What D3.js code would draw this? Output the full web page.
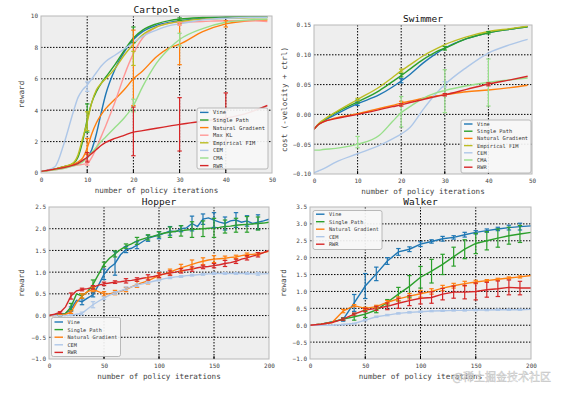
<!DOCTYPE html>
<html><head><meta charset="utf-8">
<script src="https://cdn.jsdelivr.net/npm/d3@7"></script>
<style>body{margin:0;background:#fff}svg{display:block}</style></head>
<body>
<script>
// ---------- Colours / names ----------
const names = {vine:"Vine", single:"Single Path", ng:"Natural Gradient", maxkl:"Max KL", fim:"Empirical FIM", cem:"CEM", cma:"CMA", rwr:"RWR"};
const colors = {vine:"#1f77b4", single:"#2ca02c", ng:"#ff7f0e", maxkl:"#ff9896", fim:"#bcbd22", cem:"#aec7e8", cma:"#98df8a", rwr:"#d62728"};

// ---------- Cartpole ----------
const cartX = [0,3,5,7,8,9,10,11,12,13,14,16,18,20,22,25,28,30,35,40,45,49];
const cartVine   = [0.1,0.25,0.4,0.55,0.65,0.78,0.95,1.5,2.5,3.8,5.0,6.6,7.7,8.5,9.0,9.4,9.6,9.7,9.85,9.9,9.95,9.95];
const cartSingle = [0.1,0.25,0.4,0.6,1.0,2.0,3.4,4.5,5.2,5.7,6.1,6.9,7.8,8.6,9.1,9.5,9.72,9.8,9.9,9.95,9.98,10.0];
const cartNG     = [0.1,0.25,0.4,0.55,0.7,0.95,1.6,2.5,3.2,3.7,4.1,4.7,5.3,6.0,6.5,7.4,8.0,8.2,9.0,9.5,9.7,9.75];
const cartMaxKL  = [0.1,0.2,0.3,0.45,0.5,0.55,0.6,1.0,1.6,2.3,3.0,4.5,6.2,7.6,8.6,9.3,9.55,9.6,9.65,9.7,9.7,9.65];
const cartFIM    = [0.1,0.25,0.4,0.65,1.15,2.2,3.25,4.5,5.3,5.7,6.0,6.65,7.5,8.2,8.8,9.3,9.55,9.65,9.8,9.85,9.88,9.9];
const cartCEM    = [0.1,0.4,1.9,3.9,4.8,5.3,5.6,6.0,6.4,6.8,7.1,7.5,7.9,8.3,8.7,9.1,9.4,9.5,9.75,9.85,9.9,9.9];
const cartCMA    = [0.1,0.2,0.3,0.45,0.55,0.7,1.0,1.3,1.65,2.0,2.3,2.9,3.5,4.3,5.5,7.0,8.0,8.5,9.2,9.6,9.75,9.8];
const cartRWR    = [0.1,0.25,0.35,0.5,0.6,0.8,1.0,1.25,1.5,1.75,1.95,2.2,2.4,2.6,2.7,2.85,3.0,3.1,3.3,3.5,3.85,4.3];
// error bars [x, low, high]
const cartErrSingle = [[10,2.6,4.4],[20,8.3,9.3],[30,9.72,9.88]];
const cartErrNG     = [[10,1.2,2.2],[20,4.3,9.1],[30,6.9,9.5],[40,9.3,9.7]];
const cartErrFIM    = [[10,2.7,3.9],[20,6.85,7.75]];
const cartErrCEM    = [[10,5.2,5.8]];
const cartErrCMA    = [[20,3.9,4.7],[30,8.1,8.9]];
const cartErrMaxKL  = [[10,0.5,0.8],[30,9.4,9.6]];
const cartErrRWR    = [[10,0.7,1.3],[20,1.1,4.2],[30,1.4,4.8],[40,2.0,5.1]];

// ---------- Swimmer ----------
const swimX = [0,1,2,5,10,15,18,20,22,25,28,30,35,40,45,49];
const swimVine   = [-0.025,-0.017,-0.012,0.0,0.018,0.033,0.046,0.056,0.067,0.086,0.102,0.111,0.127,0.137,0.143,0.147];
const swimSingle = [-0.025,-0.017,-0.011,0.003,0.021,0.040,0.055,0.065,0.076,0.092,0.105,0.111,0.127,0.137,0.143,0.147];
const swimNG     = [-0.025,-0.017,-0.013,-0.006,0.001,0.010,0.015,0.019,0.022,0.027,0.031,0.033,0.038,0.041,0.045,0.049];
const swimFIM    = [-0.025,-0.016,-0.010,0.004,0.025,0.046,0.062,0.073,0.083,0.098,0.110,0.117,0.130,0.139,0.144,0.148];
const swimCEM    = [-0.098,-0.095,-0.092,-0.080,-0.066,-0.052,-0.041,-0.033,-0.022,0.008,0.035,0.050,0.079,0.103,0.117,0.126];
const swimCMA    = [-0.060,-0.060,-0.059,-0.057,-0.050,-0.035,-0.012,0.003,0.013,0.027,0.036,0.040,0.048,0.054,0.058,0.061];
const swimRWR    = [-0.025,-0.017,-0.013,-0.007,0.0,0.008,0.013,0.016,0.020,0.025,0.030,0.033,0.042,0.051,0.058,0.064];
const swimErrVine   = [[10,0.015,0.021],[20,0.053,0.060]];
const swimErrSingle = [[10,0.019,0.024],[20,0.063,0.069],[30,0.108,0.114],[40,0.135,0.139]];
const swimErrFIM    = [[10,0.023,0.027],[20,0.071,0.076]];
const swimErrNG     = [[20,0.017,0.022]];
const swimErrCEM    = [[30,0.046,0.055]];
const swimErrCMA    = [[10,-0.056,-0.037],[20,-0.021,0.030],[30,0.003,0.075],[40,0.014,0.093]];
const swimErrRWR    = [[20,0.014,0.018],[30,0.031,0.035],[40,0.048,0.053]];

// ---------- Hopper ----------
const hopX = d3.range(0, 201, 5);
const hopVine   = [0,0.01,0.02,0.05,0.15,0.35,0.32,0.40,0.48,0.70,0.95,1.10,1.20,1.40,1.52,1.55,1.62,1.70,1.78,1.82,1.85,1.90,1.95,1.93,2.00,2.02,2.12,2.05,2.22,2.25,2.20,2.15,2.12,2.18,2.20,2.15,2.18,2.12,2.15,2.18,2.22];
const hopSingle = [0,0.01,0.02,0.05,0.20,0.50,0.45,0.55,0.72,0.95,1.18,1.32,1.42,1.52,1.60,1.65,1.72,1.76,1.80,1.83,1.87,1.90,1.92,1.94,1.95,1.97,1.98,1.99,2.00,2.01,2.02,2.03,2.05,2.06,2.08,2.09,2.10,2.11,2.12,2.13,2.15];
const hopNG     = [0,0,0.01,0.03,0.08,0.30,0.45,0.55,0.60,0.55,0.50,0.50,0.53,0.56,0.60,0.66,0.72,0.76,0.80,0.86,0.92,0.96,1.00,1.05,1.10,1.14,1.18,1.22,1.25,1.28,1.30,1.31,1.32,1.34,1.35,1.38,1.40,1.41,1.42,1.45,1.48];
const hopCEM    = [0,0,0,0,0.01,0.03,0.05,0.15,0.25,0.33,0.40,0.47,0.52,0.57,0.62,0.66,0.70,0.73,0.76,0.79,0.82,0.85,0.87,0.89,0.90,0.92,0.93,0.94,0.95,0.96,0.97,0.97,0.97,0.97,0.97,0.97,0.97,0.96,0.96,0.96,0.97];
const hopRWR    = [0,0.03,0.07,0.20,0.45,0.57,0.60,0.62,0.65,0.70,0.73,0.75,0.77,0.78,0.80,0.81,0.83,0.86,0.88,0.90,0.93,0.96,0.98,1.00,1.03,1.05,1.07,1.10,1.12,1.13,1.15,1.17,1.20,1.22,1.25,1.30,1.33,1.37,1.40,1.45,1.50];
const hopErrX = d3.range(10, 191, 10);
const hopErrVine   = [0.02,0.05,0.07,0.05,0.12,0.27,0.07,0.08,0.07,0.08,0.10,0.07,0.17,0.12,0.17,0.15,0.17,0.12,0.17];
const hopErrSingle = [0.02,0.08,0.05,0.10,0.05,0.07,0.05,0.08,0.06,0.06,0.12,0.12,0.18,0.18,0.22,0.15,0.16,0.18,0.15];
const hopErrNG     = [0.01,0.03,0.05,0.05,0.05,0.05,0.05,0.07,0.07,0.07,0.07,0.08,0.10,0.08,0.08,0.05,0.04,0.04,0.03];
const hopErrCEM    = [0,0.01,0.03,0.07,0.03,0.03,0.04,0.03,0.02,0.02,0.02,0.02,0.02,0.02,0.02,0.02,0.02,0.02,0.03];
const hopErrRWR    = [0.02,0.07,0.03,0.04,0.04,0.03,0.05,0.04,0.06,0.05,0.05,0.05,0.05,0.04,0.05,0.07,0.05,0.05,0.05];

// ---------- Walker ----------
const walkX = d3.range(0, 201, 10);
const walkVine   = [0,0.03,0.10,0.17,0.66,1.16,1.52,1.90,2.17,2.25,2.40,2.48,2.56,2.60,2.68,2.75,2.80,2.85,2.89,2.92,2.94];
const walkSingle = [0,0.03,0.10,0.18,0.25,0.33,0.45,0.68,0.92,1.15,1.42,1.60,1.80,2.03,2.25,2.42,2.50,2.58,2.65,2.70,2.75];
const walkNG     = [0,0.03,0.08,0.42,0.58,0.50,0.55,0.68,0.78,0.86,0.93,1.00,1.10,1.17,1.23,1.28,1.32,1.36,1.40,1.43,1.47];
const walkCEM    = [0,0,0,0.02,0.05,0.15,0.25,0.30,0.35,0.38,0.40,0.42,0.43,0.44,0.44,0.45,0.45,0.46,0.46,0.46,0.47];
const walkRWR    = [0,0.03,0.08,0.18,0.33,0.45,0.50,0.56,0.65,0.73,0.80,0.82,0.92,0.98,0.98,1.00,1.05,1.08,1.12,1.10,1.10];
const walkErrX = d3.range(30, 191, 10);
const walkErrVine   = [0.05,0.25,0.37,0.20,0.10,0.10,0.07,0.07,0.05,0.07,0.05,0.07,0.05,0.05,0.05,0.07,0.10];
const walkErrSingle = [0.03,0.10,0.10,0.08,0.08,0.20,0.32,0.32,0.35,0.30,0.28,0.28,0.30,0.27,0.27,0.25,0.25];
const walkErrNG     = [0.05,0.03,0.03,0.04,0.05,0.06,0.08,0.10,0.08,0.08,0.07,0.07,0.05,0.03,0.03,0.03,0.03];
const walkErrCEM    = [0.01,0.01,0.02,0.02,0.02,0.02,0.02,0.02,0.02,0.02,0.02,0.02,0.02,0.02,0.02,0.02,0.02];
const walkErrRWR    = [0.03,0.03,0.05,0.06,0.10,0.15,0.15,0.17,0.17,0.17,0.18,0.20,0.25,0.22,0.23,0.22,0.20];

// ---------- Drawing ----------
const W = 563, H = 394;
const mono = "'DejaVu Sans Mono', monospace";
const svg = d3.select("body").append("svg").attr("width", W).attr("height", H);

function toTriples(ex, ys, half){ return ex.map((x,i)=>{const idx=ys.x.indexOf(x); const v=ys.y[idx]; return [x, v-half[i], v+half[i]];}); }

let clipId = 0;
function panel(cfg){
  const x = d3.scaleLinear().domain(cfg.xd).range([cfg.l, cfg.r]);
  const y = d3.scaleLinear().domain(cfg.yd).range([cfg.b, cfg.t]);
  const g = svg.append("g");
  g.append("rect").attr("x", cfg.l).attr("y", cfg.t).attr("width", cfg.r-cfg.l).attr("height", cfg.b-cfg.t).attr("fill", "#eeeeee");
  const id = "clip" + (clipId++);
  g.append("clipPath").attr("id", id).append("rect").attr("x", cfg.l).attr("y", cfg.t).attr("width", cfg.r-cfg.l).attr("height", cfg.b-cfg.t);
  // grid
  cfg.gx.forEach(v => g.append("line").attr("x1", x(v)).attr("x2", x(v)).attr("y1", cfg.t).attr("y2", cfg.b)
    .attr("stroke", "#000").attr("stroke-width", 1).attr("stroke-dasharray", "1.5,1.5"));
  cfg.gy.forEach(v => g.append("line").attr("y1", y(v)).attr("y2", y(v)).attr("x1", cfg.l).attr("x2", cfg.r)
    .attr("stroke", "#000").attr("stroke-width", 1).attr("stroke-dasharray", "1.5,1.5"));
  const dg = g.append("g").attr("clip-path", `url(#${id})`);
  const line = d3.line().x(d=>x(d[0])).y(d=>y(d[1])).curve(cfg.curve);
  cfg.series.forEach(s => {
    dg.append("path").datum(s.x.map((xv,i)=>[xv, s.y[i]])).attr("d", line)
      .attr("fill", "none").attr("stroke", colors[s.k]).attr("stroke-width", 1.4);
  });
  cfg.series.forEach(s => {
    (s.err || []).forEach(e => {
      const c = colors[s.k], xx = x(e[0]);
      dg.append("line").attr("x1", xx).attr("x2", xx).attr("y1", y(e[1])).attr("y2", y(e[2])).attr("stroke", c).attr("stroke-width", 1.2);
      [e[1], e[2]].forEach(v => dg.append("line").attr("x1", xx-2.2).attr("x2", xx+2.2).attr("y1", y(v)).attr("y2", y(v)).attr("stroke", c).attr("stroke-width", 1.2));
    });
  });
  g.append("rect").attr("x", cfg.l).attr("y", cfg.t).attr("width", cfg.r-cfg.l).attr("height", cfg.b-cfg.t)
    .attr("fill", "none").attr("stroke", "#b8b8b8").attr("stroke-width", 1);
  // axes
  const ax = g.append("g").attr("transform", `translate(0,${cfg.b})`)
    .call(d3.axisBottom(x).tickValues(cfg.xt).tickSize(0).tickPadding(5).tickFormat(d3.format("d")));
  const ay = g.append("g").attr("transform", `translate(${cfg.l},0)`)
    .call(d3.axisLeft(y).tickValues(cfg.yt).tickSize(0).tickPadding(3).tickFormat(cfg.yf));
  [ax, ay].forEach(a => { a.select(".domain").remove(); a.selectAll("text").attr("font-family", mono).attr("font-size", 6).attr("fill", "#444"); });
  cfg.gx.forEach(v => { g.append("line").attr("x1", x(v)).attr("x2", x(v)).attr("y1", cfg.b).attr("y2", cfg.b-3).attr("stroke", "#000"); });
  // labels
  g.append("text").attr("x", (cfg.l+cfg.r)/2).attr("y", cfg.titleY).attr("text-anchor", "middle")
    .attr("font-family", mono).attr("font-size", 9.5).attr("fill", "#111").text(cfg.title);
  g.append("text").attr("x", (cfg.l+cfg.r)/2).attr("y", cfg.b+20).attr("text-anchor", "middle")
    .attr("font-family", mono).attr("font-size", 7.6).attr("fill", "#444").text("number of policy iterations");
  g.append("text").attr("transform", `translate(${cfg.ylx},${(cfg.t+cfg.b)/2}) rotate(-90)`).attr("text-anchor", "middle")
    .attr("dominant-baseline", "central").attr("font-family", mono).attr("font-size", 7.6).attr("fill", "#444").text(cfg.ylabel);
  // legend
  const L = cfg.legend;
  const lg = g.append("g");
  lg.append("rect").attr("x", L.x).attr("y", L.y).attr("width", L.w).attr("height", L.h).attr("rx", 2)
    .attr("fill", "#f7f7f7").attr("fill-opacity", 0.92).attr("stroke", "#aaa").attr("stroke-width", 0.8);
  cfg.series.forEach((s, i) => {
    const yy = L.y0 + i*L.dy;
    lg.append("line").attr("x1", L.x+3).attr("x2", L.x+11.5).attr("y1", yy).attr("y2", yy).attr("stroke", colors[s.k]).attr("stroke-width", 1.4);
    lg.append("text").attr("x", L.x+16).attr("y", yy).attr("dominant-baseline", "central")
      .attr("font-family", mono).attr("font-size", L.fs).attr("fill", "#333").text(names[s.k]);
  });
}

const fmt1 = d3.format(".1f"), fmt2 = d3.format(".2f");

panel({
  l:41, r:272, t:16, b:173, xd:[0,50], yd:[0,10], xt:[0,10,20,30,40,50], yt:[0,2,4,6,8,10],
  gx:[10,20,30,40], gy:[2,4,6,8], yf:d3.format("d"), curve:d3.curveMonotoneX,
  title:"Cartpole", titleY:13, ylabel:"reward", ylx:21,
  series:[
    {k:"vine", x:cartX, y:cartVine},
    {k:"single", x:cartX, y:cartSingle, err:cartErrSingle},
    {k:"ng", x:cartX, y:cartNG, err:cartErrNG},
    {k:"maxkl", x:cartX, y:cartMaxKL, err:cartErrMaxKL},
    {k:"fim", x:cartX, y:cartFIM, err:cartErrFIM},
    {k:"cem", x:cartX, y:cartCEM, err:cartErrCEM},
    {k:"cma", x:cartX, y:cartCMA, err:cartErrCMA},
    {k:"rwr", x:cartX, y:cartRWR, err:cartErrRWR}
  ],
  legend:{x:197, y:108, w:71, h:61, y0:112.4, dy:7.6, fs:5.4}
});

panel({
  l:314, r:532, t:25, b:174, xd:[0,50], yd:[-0.10,0.15], xt:[0,10,20,30,40,50], yt:[-0.10,-0.05,0,0.05,0.10,0.15],
  gx:[10,20,30,40], gy:[-0.05,0,0.05,0.10], yf:fmt2, curve:d3.curveMonotoneX,
  title:"Swimmer", titleY:22, ylabel:"cost (-velocity + ctrl)", ylx:284.5,
  series:[
    {k:"vine", x:swimX, y:swimVine, err:swimErrVine},
    {k:"single", x:swimX, y:swimSingle, err:swimErrSingle},
    {k:"ng", x:swimX, y:swimNG, err:swimErrNG},
    {k:"fim", x:swimX, y:swimFIM, err:swimErrFIM},
    {k:"cem", x:swimX, y:swimCEM, err:swimErrCEM},
    {k:"cma", x:swimX, y:swimCMA, err:swimErrCMA},
    {k:"rwr", x:swimX, y:swimRWR, err:swimErrRWR}
  ],
  legend:{x:461, y:120, w:70, h:53, y0:124, dy:7.2, fs:5.3}
});

const hopS = (k, ys, half) => ({k, x:hopX, y:ys, err: toTriples(hopErrX, {x:hopX, y:ys}, half)});
panel({
  l:49, r:269, t:207, b:359, xd:[0,200], yd:[-1,2.5], xt:[0,50,100,150,200], yt:[-1,-0.5,0,0.5,1,1.5,2,2.5],
  gx:[50,100,150], gy:[-0.5,0,0.5,1,1.5,2], yf:fmt1, curve:d3.curveLinear,
  title:"Hopper", titleY:205, ylabel:"reward", ylx:21.5,
  series:[
    hopS("vine", hopVine, hopErrVine),
    hopS("single", hopSingle, hopErrSingle),
    hopS("ng", hopNG, hopErrNG),
    hopS("cem", hopCEM, hopErrCEM),
    hopS("rwr", hopRWR, hopErrRWR)
  ],
  legend:{x:51.5, y:317.5, w:69, h:39, y0:322, dy:7.6, fs:5.2}
});

const walkS = (k, ys, half) => ({k, x:walkX, y:ys, err: toTriples(walkErrX, {x:walkX, y:ys}, half)});
panel({
  l:310, r:531, t:207, b:359, xd:[0,200], yd:[-1,3.5], xt:[0,50,100,150,200], yt:[-1,-0.5,0,0.5,1,1.5,2,2.5,3,3.5],
  gx:[50,100,150], gy:[-0.5,0,0.5,1,1.5,2,2.5,3], yf:fmt1, curve:d3.curveLinear,
  title:"Walker", titleY:205, ylabel:"reward", ylx:283,
  series:[
    walkS("vine", walkVine, walkErrVine),
    walkS("single", walkSingle, walkErrSingle),
    walkS("ng", walkNG, walkErrNG),
    walkS("cem", walkCEM, walkErrCEM),
    walkS("rwr", walkRWR, walkErrRWR)
  ],
  legend:{x:313, y:210.5, w:69, h:39, y0:214.2, dy:7.5, fs:5.2}
});

// watermark
svg.append("text").attr("x", 551).attr("y", 381).attr("text-anchor", "end")
  .attr("font-family", "'Noto Sans CJK SC', sans-serif").attr("font-size", 11)
  .attr("fill", "#ffffff").attr("stroke", "#999").attr("stroke-width", 0.5).attr("fill-opacity", 0.85).attr("stroke-opacity", 0.6)
  .text("@稀土掘金技术社区");
</script>
</body></html>
